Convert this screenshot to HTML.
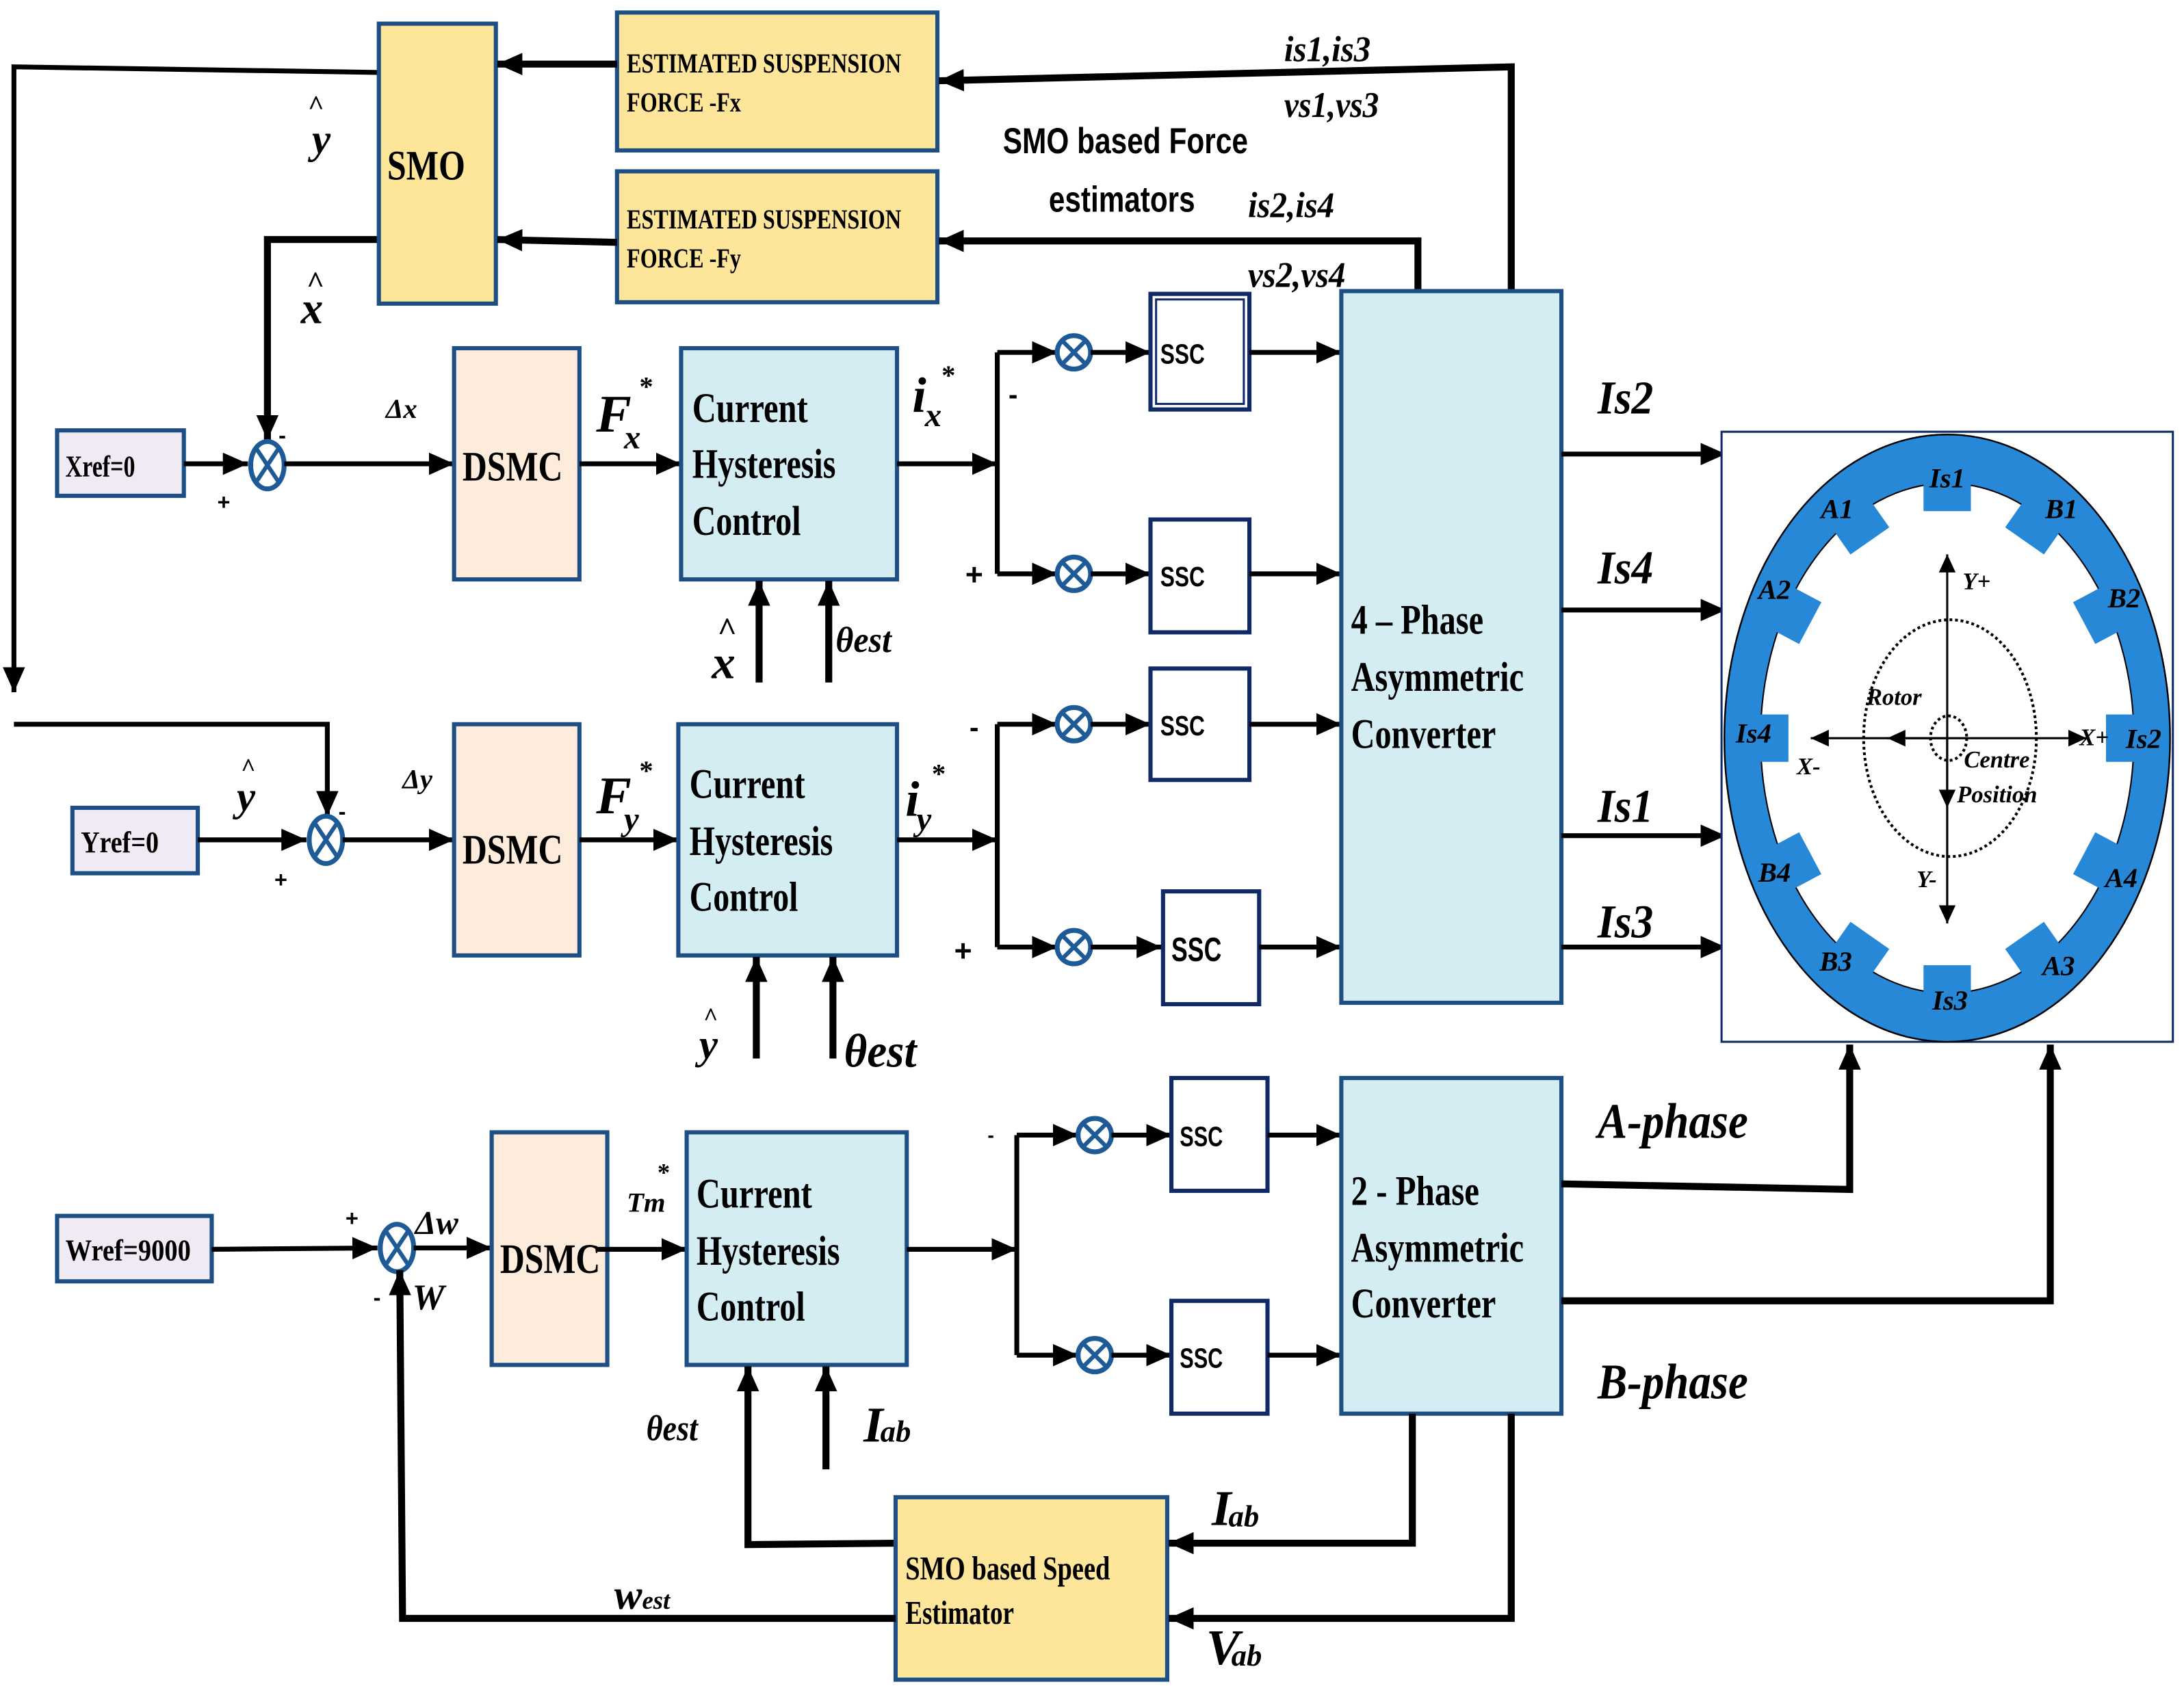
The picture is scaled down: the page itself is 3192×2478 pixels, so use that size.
<!DOCTYPE html>
<html><head><meta charset="utf-8">
<style>
html,body{margin:0;padding:0;background:#fff;}
svg{display:block;}
.t{font-family:"Liberation Serif",serif;font-weight:bold;fill:#000;}
.i{font-family:"Liberation Serif",serif;font-style:italic;font-weight:bold;fill:#000;}
.s{font-family:"Liberation Sans","DejaVu Sans",sans-serif;font-weight:bold;fill:#000;}
.w{stroke:#000;stroke-width:3.5;fill:none;}
.wt{stroke:#000;stroke-width:5;fill:none;}
.bx{stroke:#1d4f85;stroke-width:3;}
.ss{stroke:#0f2a66;stroke-width:3;fill:#fff;}
</style></head>
<body>
<svg width="3192" height="2478" viewBox="0 0 1568 1217" preserveAspectRatio="none" xmlns="http://www.w3.org/2000/svg">
<defs>
<marker id="a" markerUnits="userSpaceOnUse" markerWidth="20" markerHeight="16" refX="18" refY="8" orient="auto"><path d="M0,0 L18,8 L0,16 z" fill="#000"/></marker>
<marker id="b" markerUnits="userSpaceOnUse" markerWidth="14" markerHeight="12" refX="13" refY="6" orient="auto"><path d="M0,0 L13,6 L0,12 z" fill="#000"/></marker>
<g id="sum"><ellipse cx="0" cy="0" rx="12" ry="17" fill="#fff" stroke="#1d5a96" stroke-width="3.5"/><path d="M-8,-12 L8,12 M8,-12 L-8,12" stroke="#1d5a96" stroke-width="3"/></g>
<g id="mul"><circle cx="0" cy="0" r="12" fill="#fff" stroke="#1d5a96" stroke-width="3.5"/><path d="M-8,-8 L8,8 M8,-8 L-8,8" stroke="#1d5a96" stroke-width="3"/></g>
</defs>

<path class="w" d="M272,52 L10,48 L10,497" marker-end="url(#a)"/>
<path class="w" d="M10,520 L235,520 L235,586" marker-end="url(#a)"/>
<path class="wt" d="M272,172 L192,172 L192,316" marker-end="url(#a)"/>

<rect x="272" y="17" width="84" height="201" fill="#fde59a" class="bx"/>
<text class="t" x="278" y="129" font-size="30" textLength="56" lengthAdjust="spacingAndGlyphs">SMO</text>
<rect x="443" y="9" width="230" height="99" fill="#fde59a" class="bx"/>
<text class="t" x="450" y="52" font-size="20" font-weight="normal" textLength="197" lengthAdjust="spacingAndGlyphs">ESTIMATED SUSPENSION</text>
<text class="t" x="450" y="80" font-size="20" font-weight="normal" textLength="82" lengthAdjust="spacingAndGlyphs">FORCE -Fx</text>
<rect x="443" y="123" width="230" height="94" fill="#fde59a" class="bx"/>
<text class="t" x="450" y="164" font-size="20" font-weight="normal" textLength="197" lengthAdjust="spacingAndGlyphs">ESTIMATED SUSPENSION</text>
<text class="t" x="450" y="192" font-size="20" font-weight="normal" textLength="82" lengthAdjust="spacingAndGlyphs">FORCE -Fy</text>
<path class="wt" d="M443,46 L357,46" marker-end="url(#a)"/>
<path class="wt" d="M443,174 L357,172" marker-end="url(#a)"/>
<path class="wt" d="M1085,209 L1085,48 L674,58" marker-end="url(#a)"/>
<path class="wt" d="M1018,209 L1018,173 L674,173" marker-end="url(#a)"/>
<text class="i" x="922" y="44" font-size="26" textLength="62" lengthAdjust="spacingAndGlyphs">is1,is3</text>
<text class="i" x="922" y="84" font-size="26" textLength="68" lengthAdjust="spacingAndGlyphs">vs1,vs3</text>
<text class="s" x="720" y="110" font-size="26" textLength="176" lengthAdjust="spacingAndGlyphs">SMO  based Force</text>
<text class="s" x="753" y="152" font-size="26" textLength="105" lengthAdjust="spacingAndGlyphs">estimators</text>
<text class="i" x="896" y="156" font-size="26" textLength="62" lengthAdjust="spacingAndGlyphs">is2,is4</text>
<text class="i" x="896" y="206" font-size="26" textLength="70" lengthAdjust="spacingAndGlyphs">vs2,vs4</text>

<text class="i" x="221" y="82" font-size="20" font-weight="normal">^</text>
<text class="i" x="224" y="110" font-size="30" font-weight="normal">y</text>
<text class="i" x="220" y="210" font-size="22" font-weight="normal">^</text>
<text class="i" x="216" y="232" font-size="32" font-weight="normal">x</text>

<rect x="41" y="309" width="91" height="47" fill="#efeaf3" class="bx"/>
<text class="t" x="47" y="342" font-size="22" font-weight="normal" textLength="50" lengthAdjust="spacingAndGlyphs">Xref=0</text>
<path class="w" d="M132,333 L178,333" marker-end="url(#a)"/>
<use href="#sum" x="192" y="334"/>
<text class="s" x="156" y="366" font-size="16">+</text>
<text class="s" x="200" y="318" font-size="16">-</text>
<path class="w" d="M204,333 L326,333" marker-end="url(#a)"/>
<text class="i" x="277" y="300" font-size="20" font-weight="normal">Δx</text>
<rect x="326" y="250" width="90" height="166" fill="#fdebdc" class="bx"/>
<text class="t" x="332" y="345" font-size="30" font-weight="normal" textLength="72" lengthAdjust="spacingAndGlyphs">DSMC</text>
<path class="w" d="M416,333 L489,333" marker-end="url(#a)"/>
<text class="i" x="428" y="310" font-size="38">F</text><text class="i" x="448" y="322" font-size="24">x</text><text class="t" x="459" y="284" font-size="20" font-weight="normal">*</text>
<rect x="489" y="250" width="155" height="166" fill="#d4edf2" class="bx"/>
<text class="t" x="497" y="303" font-size="30" font-weight="normal" textLength="83" lengthAdjust="spacingAndGlyphs">Current</text>
<text class="t" x="497" y="343" font-size="30" font-weight="normal" textLength="103" lengthAdjust="spacingAndGlyphs">Hysteresis</text>
<text class="t" x="497" y="384" font-size="30" font-weight="normal" textLength="78" lengthAdjust="spacingAndGlyphs">Control</text>
<text class="i" x="655" y="296" font-size="36">i</text><text class="i" x="664" y="306" font-size="24">x</text><text class="t" x="676" y="276" font-size="20" font-weight="normal">*</text>
<path class="w" d="M644,333 L716,333" marker-end="url(#a)"/>
<path class="w" d="M716,253 L716,412"/>
<path class="w" d="M716,253 L759,253" marker-end="url(#a)"/>
<path class="w" d="M716,412 L759,412" marker-end="url(#a)"/>
<text class="s" x="724" y="290" font-size="20">-</text>
<text class="s" x="693" y="420" font-size="22">+</text>
<use href="#mul" x="771" y="253"/><use href="#mul" x="771" y="412"/>
<path class="w" d="M783,253 L826,253" marker-end="url(#a)"/>
<path class="w" d="M783,412 L826,412" marker-end="url(#a)"/>
<rect x="826" y="211" width="71" height="83" class="ss"/>
<rect x="830" y="215" width="63" height="75" fill="none" stroke="#0f2a66" stroke-width="1.5"/>
<text class="s" x="833" y="261" font-size="20" textLength="32" lengthAdjust="spacingAndGlyphs">SSC</text>
<rect x="826" y="373" width="71" height="81" class="ss"/>
<text class="s" x="833" y="421" font-size="20" textLength="32" lengthAdjust="spacingAndGlyphs">SSC</text>
<path class="w" d="M897,253 L963,253" marker-end="url(#a)"/>
<path class="w" d="M897,412 L963,412" marker-end="url(#a)"/>
<path class="wt" d="M545,490 L545,417" marker-end="url(#a)"/>
<path class="wt" d="M595,490 L595,417" marker-end="url(#a)"/>
<text class="i" x="515" y="460" font-size="24" font-weight="normal">^</text>
<text class="i" x="511" y="487" font-size="34" font-weight="normal">x</text>
<text class="i" x="600" y="468" font-size="26" font-weight="normal" textLength="40" lengthAdjust="spacingAndGlyphs">θest</text>

<rect x="52" y="580" width="90" height="47" fill="#efeaf3" class="bx"/>
<text class="t" x="58" y="612" font-size="22" font-weight="normal" textLength="56" lengthAdjust="spacingAndGlyphs">Yref=0</text>
<path class="w" d="M142,603 L220,603" marker-end="url(#a)"/>
<use href="#sum" x="234" y="603"/>
<text class="s" x="197" y="637" font-size="16">+</text>
<text class="s" x="243" y="588" font-size="16">-</text>
<text class="i" x="173" y="557" font-size="18" font-weight="normal">^</text>
<text class="i" x="170" y="582" font-size="30" font-weight="normal">y</text>
<path class="w" d="M246,603 L326,603" marker-end="url(#a)"/>
<text class="i" x="289" y="566" font-size="20" font-weight="normal">Δy</text>
<rect x="326" y="520" width="90" height="166" fill="#fdebdc" class="bx"/>
<text class="t" x="332" y="620" font-size="30" font-weight="normal" textLength="72" lengthAdjust="spacingAndGlyphs">DSMC</text>
<path class="w" d="M416,603 L487,603" marker-end="url(#a)"/>
<text class="i" x="428" y="584" font-size="38">F</text><text class="i" x="448" y="596" font-size="24">y</text><text class="t" x="459" y="560" font-size="20" font-weight="normal">*</text>
<rect x="487" y="520" width="157" height="166" fill="#d4edf2" class="bx"/>
<text class="t" x="495" y="573" font-size="30" font-weight="normal" textLength="83" lengthAdjust="spacingAndGlyphs">Current</text>
<text class="t" x="495" y="614" font-size="30" font-weight="normal" textLength="103" lengthAdjust="spacingAndGlyphs">Hysteresis</text>
<text class="t" x="495" y="654" font-size="30" font-weight="normal" textLength="78" lengthAdjust="spacingAndGlyphs">Control</text>
<text class="i" x="650" y="586" font-size="36">i</text><text class="i" x="658" y="596" font-size="24">y</text><text class="t" x="669" y="562" font-size="20" font-weight="normal">*</text>
<path class="w" d="M644,603 L716,603" marker-end="url(#a)"/>
<path class="w" d="M716,520 L716,680"/>
<path class="w" d="M716,520 L759,520" marker-end="url(#a)"/>
<path class="w" d="M716,680 L759,680" marker-end="url(#a)"/>
<text class="s" x="696" y="529" font-size="20">-</text>
<text class="s" x="685" y="690" font-size="22">+</text>
<use href="#mul" x="771" y="520"/><use href="#mul" x="771" y="680"/>
<path class="w" d="M783,520 L826,520" marker-end="url(#a)"/>
<path class="w" d="M783,680 L834,680" marker-end="url(#a)"/>
<rect x="826" y="480" width="71" height="80" class="ss"/>
<text class="s" x="833" y="528" font-size="20" textLength="32" lengthAdjust="spacingAndGlyphs">SSC</text>
<rect x="835" y="640" width="69" height="81" class="ss"/>
<text class="s" x="841" y="690" font-size="24" textLength="36" lengthAdjust="spacingAndGlyphs">SSC</text>
<path class="w" d="M897,520 L963,520" marker-end="url(#a)"/>
<path class="w" d="M904,680 L963,680" marker-end="url(#a)"/>
<path class="wt" d="M543,760 L543,687" marker-end="url(#a)"/>
<path class="wt" d="M598,760 L598,687" marker-end="url(#a)"/>
<text class="i" x="505" y="736" font-size="18" font-weight="normal">^</text>
<text class="i" x="502" y="760" font-size="30" font-weight="normal">y</text>
<text class="i" x="606" y="766" font-size="34" font-weight="normal" textLength="52" lengthAdjust="spacingAndGlyphs">θest</text>

<rect x="963" y="209" width="158" height="511" fill="#d4edf2" class="bx"/>
<text class="t" x="970" y="455" font-size="30" font-weight="normal" textLength="95" lengthAdjust="spacingAndGlyphs">4 – Phase</text>
<text class="t" x="970" y="496" font-size="30" font-weight="normal" textLength="124" lengthAdjust="spacingAndGlyphs">Asymmetric</text>
<text class="t" x="970" y="537" font-size="30" font-weight="normal" textLength="104" lengthAdjust="spacingAndGlyphs">Converter</text>
<path class="w" d="M1121,326 L1239,326" marker-end="url(#a)"/>
<path class="w" d="M1121,438 L1239,438" marker-end="url(#a)"/>
<path class="w" d="M1121,600 L1239,600" marker-end="url(#a)"/>
<path class="w" d="M1121,680 L1239,680" marker-end="url(#a)"/>
<text class="i" x="1147" y="297" font-size="34" font-weight="normal" textLength="40" lengthAdjust="spacingAndGlyphs">Is2</text>
<text class="i" x="1147" y="419" font-size="34" font-weight="normal" textLength="40" lengthAdjust="spacingAndGlyphs">Is4</text>
<text class="i" x="1147" y="590" font-size="34" font-weight="normal" textLength="40" lengthAdjust="spacingAndGlyphs">Is1</text>
<text class="i" x="1147" y="673" font-size="34" font-weight="normal" textLength="40" lengthAdjust="spacingAndGlyphs">Is3</text>

<rect x="1236" y="310" width="324" height="438" fill="#fff" stroke="#0f2a66" stroke-width="1.5"/>
<ellipse cx="1398" cy="530" rx="160" ry="218" fill="#2688d6" stroke="#000" stroke-width="1.2"/>
<ellipse cx="1398" cy="530" rx="134" ry="183" fill="#fff" stroke="#000" stroke-width="1"/>
<g fill="#2688d6">
<rect x="-17" y="-12" width="34" height="32" transform="translate(1398,347) rotate(0)"/>
<rect x="-17" y="-12" width="34" height="32" transform="translate(1465,372) rotate(35)"/>
<rect x="-17" y="-12" width="34" height="32" transform="translate(1514,438) rotate(62)"/>
<rect x="-17" y="-12" width="34" height="32" transform="translate(1532,530) rotate(90)"/>
<rect x="-17" y="-12" width="34" height="32" transform="translate(1514,622) rotate(118)"/>
<rect x="-17" y="-12" width="34" height="32" transform="translate(1465,688) rotate(145)"/>
<rect x="-17" y="-12" width="34" height="32" transform="translate(1398,713) rotate(180)"/>
<rect x="-17" y="-12" width="34" height="32" transform="translate(1331,688) rotate(215)"/>
<rect x="-17" y="-12" width="34" height="32" transform="translate(1282,622) rotate(242)"/>
<rect x="-17" y="-12" width="34" height="32" transform="translate(1264,530) rotate(270)"/>
<rect x="-17" y="-12" width="34" height="32" transform="translate(1282,438) rotate(298)"/>
<rect x="-17" y="-12" width="34" height="32" transform="translate(1331,372) rotate(325)"/>
</g>
<g class="i" font-size="20" font-weight="normal" text-anchor="middle">
<text x="1398" y="350">Is1</text><text x="1480" y="372">B1</text><text x="1525" y="436">B2</text>
<text x="1539" y="537">Is2</text><text x="1523" y="637">A4</text><text x="1478" y="700">A3</text>
<text x="1400" y="725">Is3</text><text x="1318" y="697">B3</text><text x="1274" y="633">B4</text>
<text x="1259" y="533">Is4</text><text x="1274" y="430">A2</text><text x="1319" y="372">A1</text>
</g>
<ellipse cx="1400" cy="530" rx="62" ry="85" fill="none" stroke="#000" stroke-width="2" stroke-dasharray="2,2"/>
<ellipse cx="1399" cy="530" rx="13" ry="16" fill="none" stroke="#000" stroke-width="2" stroke-dasharray="2,2"/>
<path d="M1398,660 L1398,398" stroke="#000" stroke-width="1.5" marker-end="url(#b)"/>
<path d="M1398,530 L1398,663" stroke="#000" stroke-width="1.5" marker-end="url(#b)"/>
<path d="M1398,530 L1398,580" stroke="#000" stroke-width="1.5" marker-end="url(#b)"/>
<path d="M1398,530 L1300,530" stroke="#000" stroke-width="1.5" marker-end="url(#b)"/>
<path d="M1398,530 L1498,530" stroke="#000" stroke-width="1.5" marker-end="url(#b)"/>
<path d="M1398,530 L1355,530" stroke="#000" stroke-width="1.5" marker-end="url(#b)"/>
<g class="i" font-size="17" font-weight="normal">
<text x="1409" y="423">Y+</text><text x="1493" y="535">X+</text><text x="1290" y="556">X-</text>
<text x="1376" y="637">Y-</text><text x="1340" y="506">Rotor</text><text x="1410" y="551">Centre</text><text x="1405" y="576">Position</text>
</g>

<rect x="41" y="873" width="111" height="47" fill="#efeaf3" class="bx"/>
<text class="t" x="47" y="905" font-size="22" font-weight="normal" textLength="90" lengthAdjust="spacingAndGlyphs">Wref=9000</text>
<path class="w" d="M152,897 L271,896" marker-end="url(#a)"/>
<use href="#sum" x="285" y="896"/>
<text class="s" x="248" y="880" font-size="16">+</text>
<text class="s" x="268" y="937" font-size="16">-</text>
<text class="i" x="298" y="886" font-size="24" font-weight="normal">Δw</text>
<text class="i" x="296" y="940" font-size="26" font-weight="normal">W</text>
<path class="w" d="M297,896 L353,896" marker-end="url(#a)"/>
<rect x="353" y="813" width="83" height="167" fill="#fdebdc" class="bx"/>
<text class="t" x="359" y="914" font-size="30" font-weight="normal" textLength="72" lengthAdjust="spacingAndGlyphs">DSMC</text>
<path class="w" d="M428,897 L493,897" marker-end="url(#a)"/>
<text class="i" x="450" y="870" font-size="20" font-weight="normal">Tm</text><text class="t" x="472" y="848" font-size="18" font-weight="normal">*</text>
<rect x="493" y="813" width="158" height="167" fill="#d4edf2" class="bx"/>
<text class="t" x="500" y="867" font-size="30" font-weight="normal" textLength="83" lengthAdjust="spacingAndGlyphs">Current</text>
<text class="t" x="500" y="908" font-size="30" font-weight="normal" textLength="103" lengthAdjust="spacingAndGlyphs">Hysteresis</text>
<text class="t" x="500" y="948" font-size="30" font-weight="normal" textLength="78" lengthAdjust="spacingAndGlyphs">Control</text>
<path class="w" d="M651,897 L730,897" marker-end="url(#a)"/>
<path class="w" d="M730,815 L730,973"/>
<path class="w" d="M730,815 L774,815" marker-end="url(#a)"/>
<path class="w" d="M730,973 L774,973" marker-end="url(#a)"/>
<text class="s" x="709" y="820" font-size="14">-</text>
<use href="#mul" x="786" y="815"/><use href="#mul" x="786" y="973"/>
<path class="w" d="M798,815 L841,815" marker-end="url(#a)"/>
<path class="w" d="M798,973 L841,973" marker-end="url(#a)"/>
<rect x="841" y="774" width="69" height="81" class="ss"/>
<text class="s" x="847" y="823" font-size="20" textLength="31" lengthAdjust="spacingAndGlyphs">SSC</text>
<rect x="841" y="934" width="69" height="81" class="ss"/>
<text class="s" x="847" y="982" font-size="20" textLength="31" lengthAdjust="spacingAndGlyphs">SSC</text>
<path class="w" d="M910,815 L963,815" marker-end="url(#a)"/>
<path class="w" d="M910,973 L963,973" marker-end="url(#a)"/>
<rect x="963" y="774" width="158" height="241" fill="#d4edf2" class="bx"/>
<text class="t" x="970" y="865" font-size="30" font-weight="normal" textLength="92" lengthAdjust="spacingAndGlyphs">2 - Phase</text>
<text class="t" x="970" y="906" font-size="30" font-weight="normal" textLength="124" lengthAdjust="spacingAndGlyphs">Asymmetric</text>
<text class="t" x="970" y="946" font-size="30" font-weight="normal" textLength="104" lengthAdjust="spacingAndGlyphs">Converter</text>
<path class="wt" d="M1121,850 L1328,854 L1328,750" marker-end="url(#a)"/>
<path class="wt" d="M1121,934 L1472,934 L1472,750" marker-end="url(#a)"/>
<text class="i" x="1147" y="817" font-size="36" font-weight="normal" textLength="108" lengthAdjust="spacingAndGlyphs">A-phase</text>
<text class="i" x="1147" y="1004" font-size="36" font-weight="normal" textLength="108" lengthAdjust="spacingAndGlyphs">B-phase</text>

<path class="wt" d="M643,1108 L537,1109 L537,981" marker-end="url(#a)"/>
<path class="wt" d="M593,1055 L593,981" marker-end="url(#a)"/>
<text class="i" x="464" y="1034" font-size="26" font-weight="normal" textLength="37" lengthAdjust="spacingAndGlyphs">θest</text>
<text class="i" x="620" y="1035" font-size="36" font-weight="normal">I</text><text class="i" x="632" y="1035" font-size="22" font-weight="normal">ab</text>
<rect x="643" y="1075" width="195" height="131" fill="#fde59a" class="bx"/>
<text class="t" x="650" y="1134" font-size="24" font-weight="normal" textLength="147" lengthAdjust="spacingAndGlyphs">SMO  based Speed</text>
<text class="t" x="650" y="1166" font-size="24" font-weight="normal" textLength="78" lengthAdjust="spacingAndGlyphs">Estimator</text>
<path class="wt" d="M1014,1015 L1014,1108 L839,1108" marker-end="url(#a)"/>
<path class="wt" d="M1085,1015 L1085,1162 L839,1162" marker-end="url(#a)"/>
<text class="i" x="870" y="1095" font-size="36" font-weight="normal">I</text><text class="i" x="882" y="1096" font-size="22" font-weight="normal">ab</text>
<text class="i" x="866" y="1195" font-size="36" font-weight="normal">V</text><text class="i" x="884" y="1196" font-size="22" font-weight="normal">ab</text>
<path class="wt" d="M643,1162 L289,1162 L287,912" marker-end="url(#a)"/>
<text class="i" x="441" y="1155" font-size="30" font-weight="normal">w</text><text class="i" x="461" y="1155" font-size="18" font-weight="normal">est</text>
</svg>
</body></html>
